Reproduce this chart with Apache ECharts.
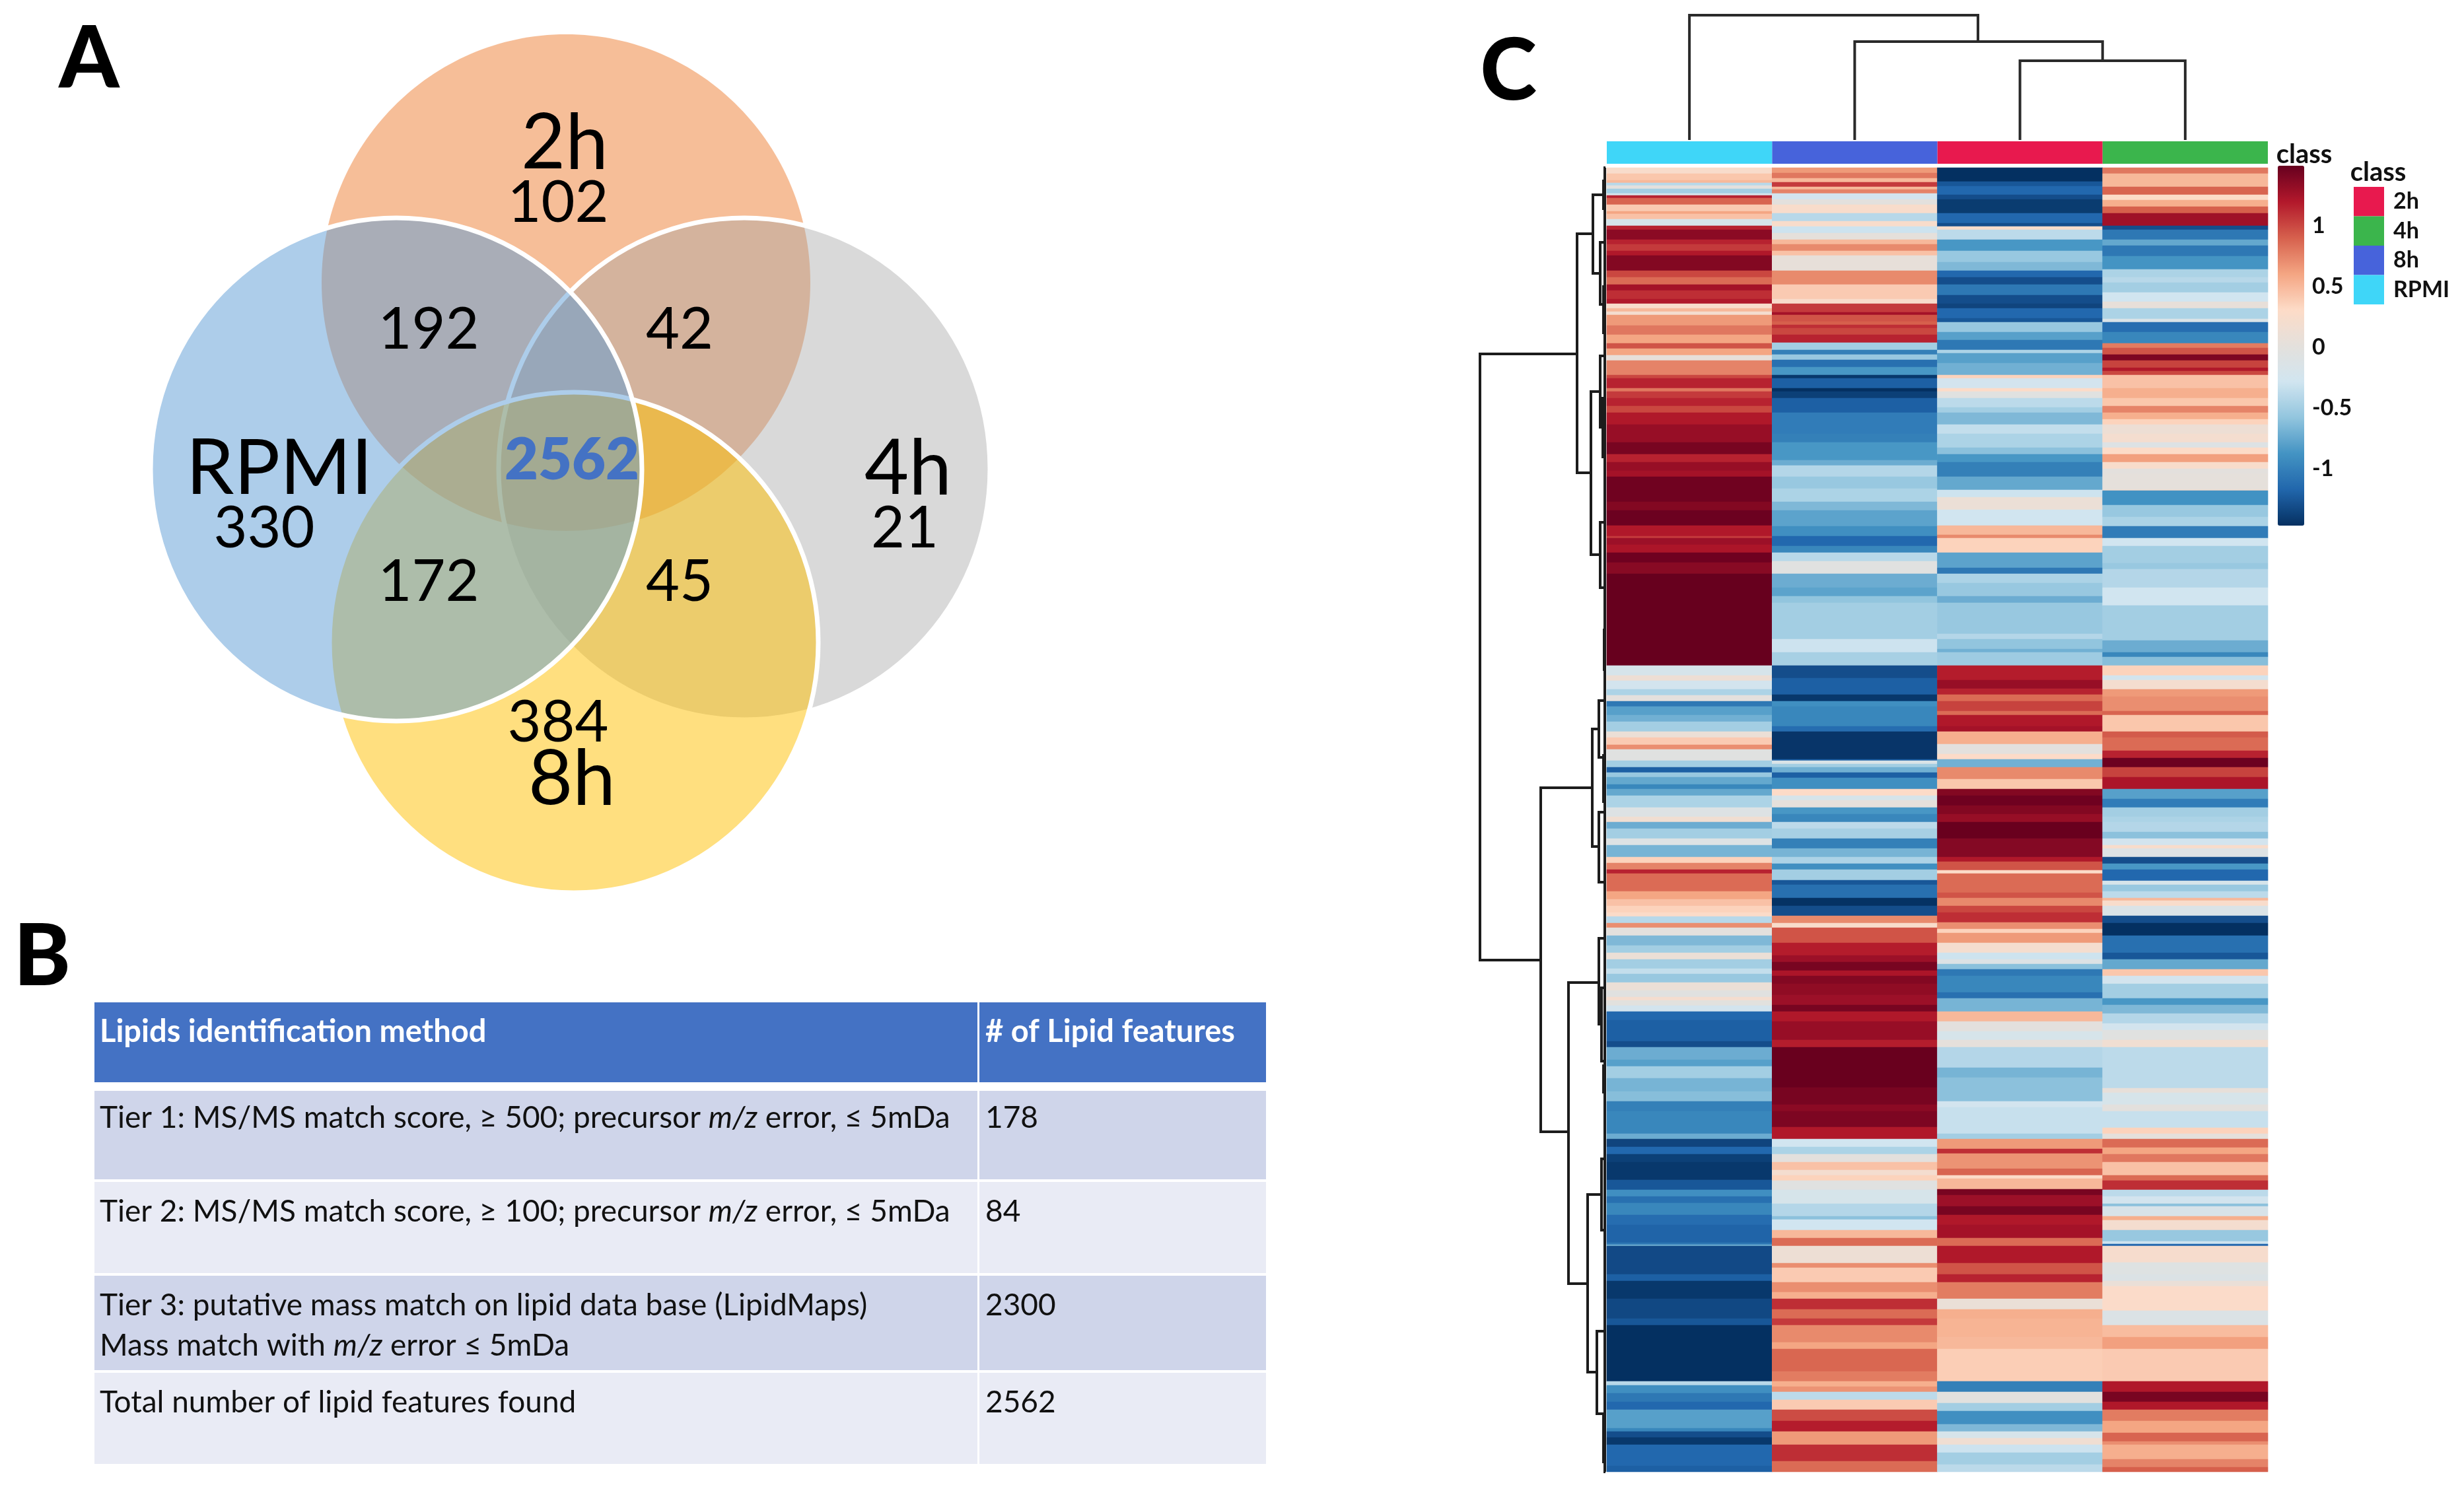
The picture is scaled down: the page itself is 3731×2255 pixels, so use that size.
<!DOCTYPE html>
<html><head><meta charset="utf-8">
<style>html,body{margin:0;padding:0;background:#fff}#c{width:3731px;height:2255px}</style>
<script src="https://cdn.jsdelivr.net/npm/echarts@6/dist/echarts.min.js"></script>
</head><body><div id="c"></div>
<script>
// ---------- data: panel A (Venn counts) ----------
const vennSets = ['2h','4h','8h','RPMI'];
const vennColors = ['rgba(237,125,49,0.5)','rgba(165,165,165,0.42)','rgba(255,192,0,0.5)','rgba(91,155,213,0.5)'];
const vennSetCounts = [102,21,384,330];
const vennPairCounts = [192,42,172,45];
const vennAllCount = 2562;

// ---------- data: panel B (table) ----------
const tableHead = ['Lipids identification method','# of Lipid features'];
const tableMethods = [
  ['Tier 1: MS/MS match score, \u2265 500; precursor {i|m/z} error, \u2264 5mDa'],
  ['Tier 2: MS/MS match score, \u2265 100; precursor {i|m/z} error, \u2264 5mDa'],
  ['Tier 3: putative mass match on lipid data base (LipidMaps)','Mass match with {i|m/z} error \u2264 5mDa'],
  ['Total number of lipid features found']
];
const tableCounts = [178,84,2300,2562];

// ---------- data: panel C (heatmap; bands of [last row, z-score]) ----------
const heatColumns = ['RPMI','8h','2h','4h'];
const rowCount = 1975;
const bandsRPMI = [[9,.25],[19,.42],[23,.5],[27,-.4],[32,0],[39,-.5],[42,-.2],[46,1.15],[56,.88],[66,.4],[70,.6],[78,.45],[88,-.2],[94,1.15],[109,1.35],[116,1.15],[126,1.05],[133,1.2],[156,1.38],[166,1],[177,.85],[186,1.25],[199,1.1],[206,1.2],[213,.25],[218,.5],[223,.2],[239,.65],[253,.8],[266,.6],[274,.95],[284,.6],[292,.05],[314,.75],[319,1],[334,1.15],[339,.8],[349,1.05],[361,1.15],[371,1],[389,1.2],[416,1.3],[434,1.42],[446,1.15],[459,1.3],[468,1.25],[506,1.45],[519,1.38],[542,1.47],[558,1.2],[561,1.05],[571,1.28],[583,1.22],[598,1.46],[615,1.36],[754,1.49],[769,-.2],[777,.12],[790,-.25],[799,-.45],[808,0],[816,-1.05],[829,-.8],[839,-.7],[854,-.5],[863,.1],[874,.4],[881,.7],[898,-.05],[908,-.5],[916,-1.2],[923,-.55],[934,-.75],[941,-.95],[951,-.75],[969,-.45],[983,-.1],[991,.15],[1001,-.72],[1016,-.5],[1026,-.1],[1044,-.68],[1053,.35],[1063,.75],[1069,1.15],[1096,.85],[1108,.6],[1118,.45],[1128,.35],[1134,.3],[1144,-.4],[1151,.7],[1163,0],[1178,-.65],[1189,-.5],[1199,.1],[1213,-.5],[1221,-.35],[1234,-.55],[1246,.1],[1256,-.05],[1261,.2],[1269,-.02],[1278,-.25],[1291,-1.15],[1323,-1.2],[1332,-1.3],[1351,-.72],[1361,-.8],[1379,-.5],[1399,-.68],[1414,-.62],[1429,-1],[1463,-.95],[1471,-.72],[1483,-1.35],[1494,-1.15],[1506,-1.38],[1533,-1.42],[1548,-1.25],[1558,-.9],[1568,-1.1],[1586,-.95],[1601,-1.12],[1628,-1.18],[1631,-1.05],[1633,-.7],[1676,-1.32],[1686,-1.2],[1713,-1.42],[1743,-1.33],[1753,-1.25],[1838,-1.46],[1844,-.4],[1856,-.9],[1869,-1.05],[1881,-1.15],[1909,-.8],[1914,-.95],[1923,-1.3],[1934,-1.42],[1966,-1.15],[1975,-1.2]];
const bands8h = [[8,.65],[16,.8],[22,.5],[29,1.05],[33,.5],[39,.75],[48,-.25],[56,0],[69,.25],[81,-.4],[89,.25],[99,-.3],[109,.02],[116,.5],[126,.72],[133,.45],[156,.05],[177,.72],[199,.4],[206,.25],[219,1.05],[223,1.25],[233,.95],[238,.9],[243,1.1],[253,1],[265,1.15],[276,-.5],[283,-1],[291,-.55],[302,-1.1],[314,-.85],[319,-1.42],[334,-1.2],[339,-1.46],[349,-1.38],[371,-1.2],[403,-1.02],[416,-1],[443,-.85],[451,-.72],[468,-.42],[486,-.55],[506,-.45],[519,-.65],[543,-.78],[558,-.9],[573,-1.15],[583,-.95],[596,-.4],[615,-.05],[636,-.72],[649,-.78],[659,-.58],[714,-.5],[734,-.3],[754,-.48],[773,-1.3],[798,-1.2],[808,-1.42],[816,-.9],[829,-.95],[846,-.95],[854,-1.12],[896,-1.43],[898,-1.2],[903,-.15],[908,-.5],[916,-.7],[924,-1.2],[941,-.9],[951,.3],[958,-.2],[969,.02],[979,-.85],[991,-.95],[1001,-.38],[1016,-.48],[1031,-1],[1044,-.68],[1054,-.45],[1063,-.9],[1079,-.5],[1086,-1.25],[1106,-1.1],[1118,-1.45],[1133,-1.3],[1144,.72],[1151,.25],[1163,.95],[1174,.95],[1193,1.18],[1203,1.28],[1216,1.42],[1224,1.22],[1236,1.38],[1253,1.33],[1268,1.28],[1278,1.42],[1293,1.2],[1321,1.3],[1332,1.17],[1393,1.48],[1419,1.42],[1429,1.35],[1453,1.4],[1471,1.2],[1483,-.28],[1494,-.45],[1506,0],[1518,.45],[1526,.2],[1534,.35],[1548,-.05],[1569,-.2],[1588,-.42],[1593,-.6],[1609,-.28],[1621,.5],[1633,.85],[1659,.12],[1666,.7],[1688,.4],[1703,.7],[1713,.55],[1729,1.1],[1743,.85],[1753,1.05],[1779,.72],[1789,.6],[1823,.87],[1838,.78],[1846,.55],[1854,.68],[1866,-.38],[1881,.4],[1898,.98],[1914,1.18],[1934,.65],[1959,1.1],[1975,.85]];
const bands2h = [[21,-1.46],[28,-1.25],[41,-1.15],[48,-1.3],[69,-1.4],[84,-1.15],[89,-1.3],[94,.25],[109,-.38],[126,-.85],[143,-.55],[156,-.65],[166,-1.15],[177,-1.3],[193,-1.05],[206,-1.3],[213,-1.35],[228,-1.15],[234,-1.25],[249,-.55],[261,-.8],[276,-1.05],[281,-.45],[296,-.8],[314,-.7],[319,.35],[334,-.25],[339,.3],[349,-.05],[363,-.38],[371,-.5],[389,-.65],[403,-.35],[424,-.45],[434,-.6],[446,-.85],[468,-1],[488,-.75],[499,-.3],[518,.1],[542,-.28],[556,.5],[561,.72],[583,.35],[606,-.78],[615,-1.05],[629,-.45],[649,-.55],[659,-.72],[706,-.55],[714,-.42],[729,-.58],[734,-.7],[754,-.52],[776,1.18],[789,1.3],[798,1.15],[808,.85],[823,1.02],[829,.85],[846,1.2],[854,1.25],[873,.55],[888,0],[896,.3],[908,-.7],[926,.72],[941,.42],[951,1.38],[966,1.46],[979,1.38],[991,1.3],[1016,1.48],[1044,1.37],[1051,1.2],[1064,.95],[1069,.3],[1083,.85],[1098,.85],[1106,.95],[1118,.72],[1128,1],[1143,1.1],[1153,.7],[1159,.35],[1174,.65],[1189,.2],[1199,-.3],[1206,-.1],[1214,-.6],[1224,-1.05],[1249,-.95],[1258,-1.1],[1278,-.68],[1293,.5],[1308,0],[1321,-.2],[1332,.02],[1363,-.42],[1378,-.68],[1414,-.6],[1423,-.25],[1463,-.33],[1471,-.5],[1486,.65],[1493,1.1],[1516,.68],[1526,.88],[1531,.3],[1547,.5],[1556,1.42],[1573,1.28],[1586,1.42],[1601,1.2],[1621,1.25],[1633,.85],[1659,1.2],[1676,.95],[1688,1.15],[1713,.78],[1729,.08],[1743,.55],[1771,.52],[1789,.5],[1838,.38],[1854,-1],[1871,-.02],[1883,-.5],[1903,-.9],[1914,-.65],[1924,-.2],[1934,.15],[1946,-.3],[1964,-.5],[1975,-.38]];
const bands4h = [[9,.8],[29,.5],[41,.88],[49,.3],[59,.55],[69,.9],[88,1.27],[94,-1.3],[109,-1.05],[118,-.75],[134,-1.05],[154,-.87],[166,-.45],[174,-.4],[189,-.5],[203,-.28],[213,.05],[229,-.45],[234,-.15],[249,-1.12],[266,-.95],[273,.78],[283,.95],[292,1.4],[303,1.02],[308,1.2],[314,1],[334,.45],[349,.55],[361,.42],[371,.75],[381,.55],[389,.35],[403,.12],[416,.2],[424,-.1],[434,.3],[446,.62],[456,.25],[464,0],[488,.02],[489,.3],[511,-.88],[529,-.55],[543,-.45],[561,-1.02],[573,-.28],[599,-.5],[608,-.55],[636,-.42],[663,-.28],[716,-.5],[734,-.72],[741,-.95],[754,-.62],[769,.35],[776,-.25],[790,.2],[801,.65],[823,.7],[829,.88],[854,.42],[863,.92],[883,.85],[894,1.15],[908,1.47],[923,1.02],[941,1.22],[956,-.8],[969,-1.02],[983,-.5],[991,-.45],[1006,-.42],[1016,-.6],[1026,-.25],[1031,.25],[1044,-.1],[1054,-1.3],[1063,-.85],[1080,-1.15],[1086,-.2],[1096,-.55],[1106,-.38],[1110,.5],[1118,.25],[1133,-.15],[1144,-1.3],[1163,-1.46],[1173,-1.1],[1189,-1.1],[1199,-1.25],[1214,-.75],[1224,.42],[1236,-.25],[1258,-.5],[1268,-.85],[1281,-.65],[1296,-.42],[1306,-.25],[1321,-.05],[1332,.15],[1394,-.38],[1401,.05],[1419,-.2],[1429,0],[1454,-.33],[1463,.35],[1471,.02],[1484,.85],[1494,.6],[1506,.8],[1526,.45],[1534,.85],[1548,1.1],[1558,-.38],[1569,-.25],[1573,-.6],[1588,-.18],[1594,.55],[1609,.2],[1626,-.55],[1630,-.3],[1633,-1.15],[1658,.22],[1676,-.08],[1686,-.12],[1694,.08],[1731,.28],[1753,-.12],[1771,.48],[1789,.62],[1838,.4],[1854,1.2],[1869,1.42],[1881,1.2],[1898,.78],[1916,.6],[1929,.88],[1934,.7],[1956,.55],[1968,.75],[1975,.9]];
const colorTicks = [-1,-0.5,0,0.5,1];
const classNames = ['2h','4h','8h','RPMI'];
const classColors = ['#E8194E','#3BB54C','#4763DB','#3FD6F8'];
const columnClass = [3,2,0,1];
// dendrogram merges: [position A, position B, height, height of child A, height of child B]
const colMerges = [[2.5,3.5,120,0,0],[1.5,3,149,0,120],[0.5,2.246,189,0,149]];
const rowMerges = [[282,1200,190,43,98],[100,462,43,19,22],[41,160,19,0,8],[113,207,8,0,0],[339,586,22,8,8],[285,393,8,0,0],[537,636,8,0,0],[939,1460,98,20,56],[850,1028,20,10,10],[807,893,10,0,0],[976,1082,10,0,0],[1234,1690,56,10,27],[1167,1297,10,0,6],[1242,1353,6,0,0],[1555,1824,27,6,13],[1501,1609,6,0,0],[1762,1887,13,0,0],[20,62,3,0,0],[180,250,3,0,0],[349,438,4,0,0],[700,760,2,0,0],[890,960,3,0,0],[1360,1400,3,0,0],[1890,1960,3,0,0],[0,1975,1,0,0]];

// ---------- layout ----------
const FONT = 'Lato';
const vennLayout = [[857,428,370,376],[1127,710,372,380],[869,973,370,379],[600,711,372,381]];
const vennStroke = [null,'#fff','#fff','#fff'];
const vennLabels = [
 ['2h',855,218,116,0],['102',845,308,88,0],['192',649,500,88,0],['42',1029,500,88,0],
 ['RPMI',423,711,116,0],['330',400,801,88,0],['2562',866,698,88,1],['4h',1375,711,116,0],
 ['21',1370,801,88,0],['172',649,882,88,0],['45',1029,882,88,0],['384',845,1095,88,0],['8h',866,1181,116,0]
].map((r,i)=>{
  const nums=[null,vennSetCounts[0],vennPairCounts[0],vennPairCounts[1],null,vennSetCounts[3],vennAllCount,null,vennSetCounts[1],vennPairCounts[2],vennPairCounts[3],vennSetCounts[2],null];
  if(nums[i]!==null) r[0]=String(nums[i]); return r;
});
const tableRows = [[1652,1786,'#CFD5EA'],[1790,1928,'#E9EBF5'],[1932,2075,'#CFD5EA'],[2079,2217,'#E9EBF5']];
const tableTextY = [[1693],[1835],[1977,2038],[2124]];

// ---------- expand bands ----------
const heatCells = [];
[bandsRPMI,bands8h,bands2h,bands4h].forEach((b,c)=>{
  let r=0;
  b.forEach(([end,v])=>{ for(;r<end;r++) heatCells.push([c,r,v]); });
});
const rowCats = Array.from({length:rowCount},(_,i)=>i);

// ---------- graphics ----------
const g = [];
const txt=(t,x,y,size,weight,fill,align,extra)=>({type:'text',x,y,silent:true,style:Object.assign({text:t,fontFamily:FONT,fontSize:size,fontWeight:weight,fill,align:align||'left',verticalAlign:'middle'},extra||{})});
[['A',135,90],['B',64,1450],['C',2284,109]].forEach(a=>g.push(txt(a[0],a[1],a[2],130,900,'#000','center')));
g.push({type:'rect',silent:true,shape:{x:143,y:1518,width:1337,height:121},style:{fill:'#4472C4'}});
g.push({type:'rect',silent:true,shape:{x:1483,y:1518,width:434,height:121},style:{fill:'#4472C4'}});
g.push(txt(tableHead[0],151,1563,47,700,'#fff'));
g.push(txt(tableHead[1],1492,1563,47,700,'#fff'));
tableRows.forEach((r,i)=>{
  g.push({type:'rect',silent:true,shape:{x:143,y:r[0],width:1337,height:r[1]-r[0]},style:{fill:r[2]}});
  g.push({type:'rect',silent:true,shape:{x:1483,y:r[0],width:434,height:r[1]-r[0]},style:{fill:r[2]}});
  tableMethods[i].forEach((l,j)=>g.push(txt(l,151,tableTextY[i][j],46,400,'#111','left',{rich:{i:{fontStyle:'italic',fontFamily:FONT,fontSize:46,fill:'#111'}}})));
  g.push(txt(String(tableCounts[i]),1492,tableTextY[i][0],46,400,'#111'));
});
g.push(txt('class',3489,234,40,700,'#111','center'));
g.push(txt('class',3601,261,40,700,'#111','center'));

const emptyAxis=(o)=>Object.assign({show:false},o);
const mergeSeries=(xi,yi,vertical,color,width)=>({
  type:'custom',xAxisIndex:xi,yAxisIndex:yi,silent:true,clip:false,animation:false,
  data: vertical?colMerges:rowMerges,
  renderItem:(p,api)=>{
    const a=api.value(0),b=api.value(1),h=api.value(2),h1=api.value(3),h2=api.value(4);
    const pts = vertical ? [[a,h1],[a,h],[b,h],[b,h2]] : [[h1,a],[h,a],[h,b],[h2,b]];
    return {type:'polyline',shape:{points:pts.map(q=>api.coord(q))},style:{stroke:color,lineWidth:width,fill:null}};
  }
});

const option={
  animation:false,
  backgroundColor:'#fff',
  textStyle:{fontFamily:FONT},
  graphic:{elements:g},
  grid:[
    {left:0,top:0,width:1600,height:1400},
    {left:2433,top:254,width:1001,height:rowCount},
    {left:2433,top:214,width:1001,height:34},
    {left:2433,top:23,width:1001,height:189},
    {left:2231,top:254,width:200,height:rowCount},
    {left:3449,top:249.4,width:40,height:553.2}
  ],
  xAxis:[
    emptyAxis({type:'value',gridIndex:0,min:0,max:1600}),
    emptyAxis({type:'category',gridIndex:1,data:heatColumns}),
    emptyAxis({type:'category',gridIndex:2,data:heatColumns}),
    emptyAxis({type:'value',gridIndex:3,min:0,max:4}),
    emptyAxis({type:'value',gridIndex:4,min:0,max:200,inverse:true}),
    emptyAxis({type:'value',gridIndex:5,min:0,max:1})
  ],
  yAxis:[
    emptyAxis({type:'value',gridIndex:0,min:0,max:1400,inverse:true}),
    emptyAxis({type:'category',gridIndex:1,data:rowCats,inverse:true}),
    emptyAxis({type:'value',gridIndex:2,min:0,max:1}),
    emptyAxis({type:'value',gridIndex:3,min:0,max:189}),
    emptyAxis({type:'value',gridIndex:4,min:0,max:rowCount,inverse:true}),
    {type:'value',gridIndex:5,position:'right',min:-1.5,max:1.5,interval:0.5,
     axisLine:{show:false},axisTick:{show:false},splitLine:{show:false},
     axisLabel:{show:true,margin:12,align:'left',fontFamily:FONT,fontWeight:700,fontSize:34,color:'#111',
       formatter:v=>colorTicks.includes(v)?String(v):''}}
  ],
  visualMap:{type:'continuous',seriesIndex:0,min:-1.465,max:1.49,calculable:false,
    left:3449,top:251,itemWidth:40,itemHeight:545,padding:0,
    inRange:{color:['#053061','#2166AC','#4393C3','#92C5DE','#D1E5F0','#E4E0DC','#FDDBC7','#F4A582','#D6604D','#B2182B','#67001F']}},
  legend:{left:3564,top:283,orient:'vertical',itemWidth:46,itemHeight:44.5,itemGap:0,icon:'rect',selectedMode:false,padding:0,
    data:classNames,textStyle:{fontFamily:FONT,fontWeight:700,fontSize:34,color:'#111',padding:[0,0,0,9]}},
  series:[
    {type:'heatmap',name:'z-score',xAxisIndex:1,yAxisIndex:1,data:heatCells,progressive:0,silent:true,itemStyle:{borderWidth:0}},
    ...classNames.map((n,i)=>({type:'bar',name:n,xAxisIndex:2,yAxisIndex:2,barWidth:'100%',barGap:'-100%',silent:true,
      itemStyle:{color:classColors[i]},
      data:columnClass.map(c=>c===i?1:null)})),
    mergeSeries(3,3,true,'#2a2a2a',4),
    mergeSeries(4,4,false,'#1c1c1c',4),
    {type:'custom',xAxisIndex:0,yAxisIndex:0,silent:true,clip:false,data:vennSets.map((s,i)=>[i]),
      renderItem:(p,api)=>{const i=api.value(0),L=vennLayout[i],c=api.coord([L[0],L[1]]);
        return {type:'ellipse',shape:{cx:c[0],cy:c[1],rx:L[2],ry:L[3]},
          style:{fill:vennColors[i],stroke:vennStroke[i],lineWidth:vennStroke[i]?7:0}};}},
    {type:'custom',xAxisIndex:0,yAxisIndex:0,silent:true,clip:false,data:vennLabels.map((s,i)=>[i]),
      renderItem:(p,api)=>{const L=vennLabels[api.value(0)],c=api.coord([L[1],L[2]]);
        return {type:'text',style:{text:L[0],x:c[0],y:c[1],fontFamily:FONT,fontSize:L[3],fontWeight:L[4]?800:400,
          fill:L[4]?'#4472C4':'#000',align:'center',verticalAlign:'middle'}};}}
  ]
};
const chart=echarts.init(document.getElementById('c'),null,{renderer:'canvas'});
chart.setOption(option);
</script></body></html>
